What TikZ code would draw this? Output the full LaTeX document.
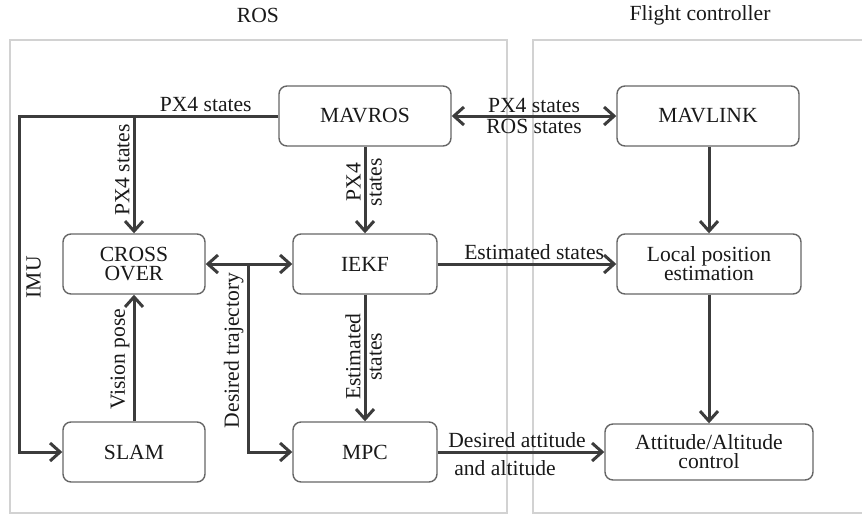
\documentclass[tikz,border=0pt]{standalone}
\usepackage{fontspec}
\setmainfont{Liberation Serif}
\usepackage{xcolor}
\usetikzlibrary{arrows.meta,positioning,calc}
\definecolor{linegray}{HTML}{3C3C3C}
\definecolor{framegray}{HTML}{D2D2D2}
\tikzstyle{block} = [rectangle, rounded corners=4pt, draw=black!60, line width=0.7pt, minimum height=30pt, align=center, text=black!90, inner sep=1pt]
\tikzstyle{arrow} = [line width=1.5pt, draw=linegray, -{Straight Barb[length=5pt,width=9pt]}]
\tikzstyle{biarrow} = [line width=1.5pt, draw=linegray, {Straight Barb[length=5pt,width=9pt]}-{Straight Barb[length=5pt,width=9pt]}]
\tikzstyle{lab} = [text=black!90, inner sep=1.5pt]

\begin{document}
\begin{tikzpicture}[x=0.5pt, y=-0.5pt, font=\fontsize{10.8}{11.5}\selectfont]
    \useasboundingbox (0,0) rectangle (862,515);
    % frames
    \draw[framegray, line width=1pt] (10,40) rectangle (507,513);
    \draw[framegray, line width=1pt] (533,40) rectangle (880,513);
    \node[lab] (rostitle) at (258,15) {ROS};
    \node[lab] (fctitle) at (700,15) {Flight controller};
    % blocks
    \node[block, minimum width=86pt] (mavros) at (365,116) {MAVROS};
    \node[block, minimum width=91pt] (mavlink) at (708,116) {MAVLINK};
    \node[block, minimum width=71pt] (cross) at (134,264) {CROSS\\[-2pt]OVER};
    \node[block, minimum width=72pt] (iekf) at (365,264) {IEKF};
    \node[block, minimum width=71pt] (slam) at (134,452) {SLAM};
    \node[block, minimum width=72pt] (mpc) at (365,452) {MPC};
    \node[block, minimum width=92pt] (local) at (709,264) {Local position\\[-2pt]estimation};
    \node[block, minimum width=104pt, minimum height=28pt] (att) at (709,452) {Attitude/Altitude\\[-2pt]control};
    \coordinate (imutop) at (19,116);
    \coordinate (px4br) at (134,116);
    \coordinate (trajbr) at (248,264);
    % connectors
    \draw[biarrow] (mavros) -- node[lab, above, inner sep=1pt]{PX4 states} node[lab, below, inner sep=1pt]{ROS states} (mavlink);
    \draw[arrow] (mavros.west) -- node[lab, above, pos=0.28]{PX4 states} (imutop) |- node[lab, rotate=90, anchor=north, pos=0.24, inner sep=3pt]{IMU} (slam.west);
    \draw[arrow] (px4br) -- node[lab, rotate=90, anchor=south, pos=0.46]{PX4 states} (cross);
    \draw[arrow] (mavros) -- node[lab, rotate=90, anchor=south, pos=0.41]{PX4} node[lab, rotate=90, anchor=north, pos=0.41]{states} (iekf);
    \draw[arrow] (slam) -- node[lab, rotate=90, anchor=south, pos=0.49]{Vision pose} (cross);
    \draw[biarrow] (cross) -- (iekf);
    \draw[arrow] (trajbr) |- node[lab, rotate=90, anchor=south, pos=0.23]{Desired trajectory} (mpc.west);
    \draw[arrow] (iekf) -- node[lab, rotate=90, anchor=south, pos=0.49]{Estimated} node[lab, rotate=90, anchor=north, pos=0.49]{states} (mpc);
    \draw[arrow] (iekf) -- node[lab, above, pos=0.54]{Estimated states} (local);
    \draw[arrow] (mpc) -- node[lab, above, xshift=-2pt]{Desired attitude} node[lab, below, xshift=-8pt, yshift=-2pt]{and altitude} (att);
    \draw[arrow] (mavlink.south -| local.north) -- (local);
    \draw[arrow] (local) -- (att);
\end{tikzpicture}
\end{document}
